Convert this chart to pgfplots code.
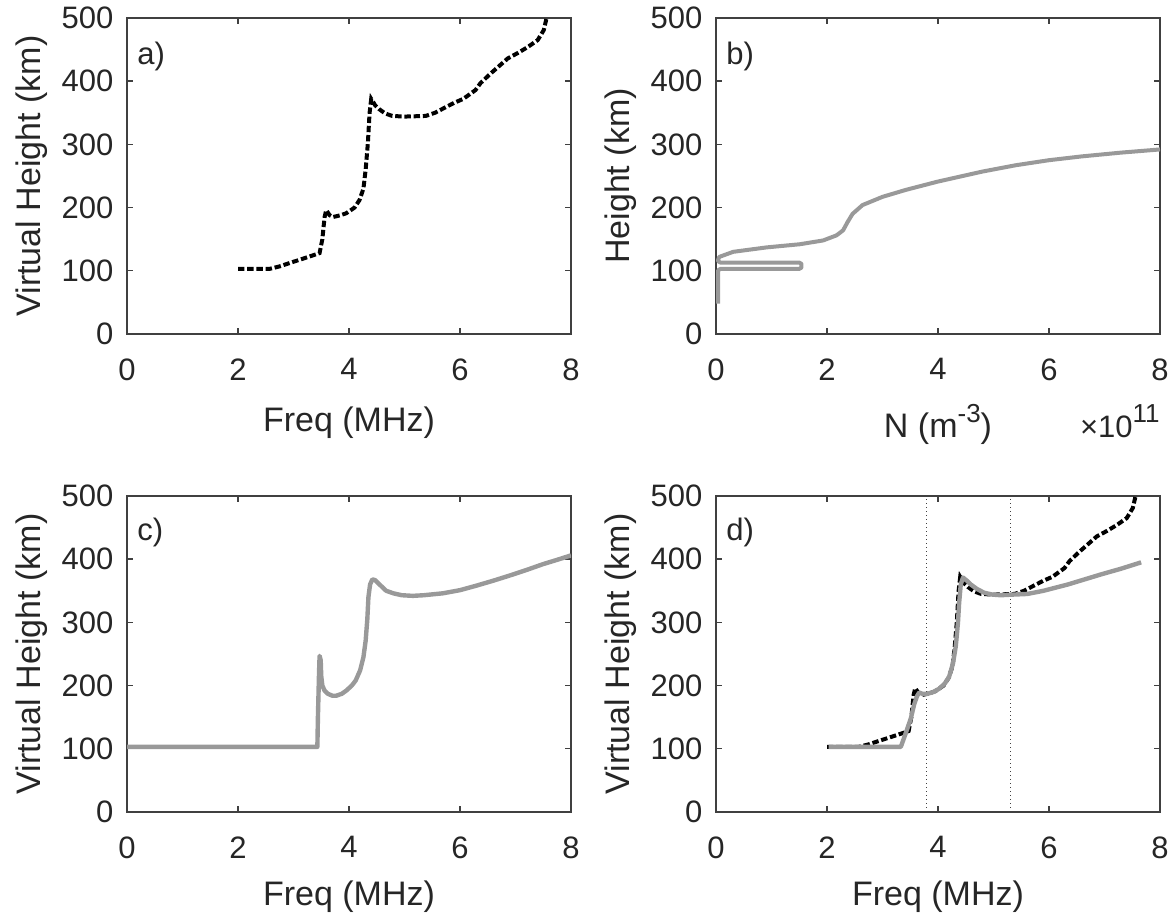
\documentclass[border=0pt]{standalone}
\usepackage{fontspec}
\setmainfont{Liberation Sans}
\usepackage{pgfplots}
\pgfplotsset{compat=1.18}
\definecolor{axgray}{HTML}{404040}
\definecolor{txtgray}{HTML}{262626}
\definecolor{linegray}{HTML}{999999}
\newcommand{\tickfont}{\fontsize{15.5}{18}\selectfont}
\newcommand{\labfont}{\fontsize{17}{20}\selectfont}

\pgfplotsset{
  panel/.style={
    scale only axis, width=222pt, height=158pt, anchor=south west,
    xmin=0, xmax=8, ymin=0, ymax=500,
    xtick={0,2,4,6,8}, ytick={0,100,200,300,400,500},
    tick align=inside, major tick length=3pt,
    axis line style={draw=axgray, line width=0.7pt},
    every tick/.style={axgray, line width=0.7pt},
    tick label style={font=\tickfont, text=txtgray},
    /pgf/number format/assume math mode=true,
    xticklabel style={yshift=-8.8pt},
    yticklabel style={xshift=-3.3pt},
  },
  dashblack/.style={black, line width=2pt, dash pattern=on 3.2pt off 1.4pt},
  solidgray/.style={linegray, line width=2.2pt, line join=round},
}

% measured virtual height (ionogram trace)
\pgfplotstableread{
f h
2.00 103
2.30 103
2.57 103
2.75 107
2.99 114
3.20 120
3.47 128
3.52 150
3.56 185
3.59 196
3.65 188
3.71 185
3.85 188
3.95 191
4.10 200
4.19 212
4.26 230
4.30 260
4.34 302
4.37 349
4.40 372
4.47 362
4.54 356
4.65 349
4.78 345
5.00 344
5.38 345
5.55 350
5.68 356
5.90 366
6.06 372
6.28 386
6.37 397
6.55 412
6.68 422
6.86 436
7.05 445
7.22 454
7.40 465
7.51 481
7.56 500
}\measured

% electron density profile, N in 1e11 m^-3
\pgfplotstableread{
n h
0.04 48
0.04 101
0.08 103
1.50 103
1.54 105
1.54 111
1.50 113
0.08 113
0.04 115
0.04 118
0.06 122
0.31 130
0.91 137
1.51 142
1.93 148
2.17 156
2.29 164
2.37 177
2.46 190
2.64 204
3.00 217
3.42 228
3.99 241
4.80 257
5.40 267
6.00 275
6.59 281
7.30 287
8.00 292
}\profile

% synthetic virtual height
\pgfplotstableread{
f h
0.00 103
3.43 103
3.44 150
3.46 220
3.47 247
3.49 240
3.50 215
3.52 200
3.56 192
3.62 187
3.70 184
3.77 184
3.87 187
3.95 192
4.05 200
4.12 208
4.20 224
4.26 245
4.30 271
4.33 305
4.35 340
4.38 360
4.42 368
4.47 367
4.55 360
4.67 350
4.80 346
4.95 343
5.15 342
5.35 343
5.69 346
6.00 351
6.29 358
6.60 366
6.89 374
7.20 383
7.49 392
7.75 399
8.00 406
}\synth

% fitted virtual height
\pgfplotstableread{
f h
2.03 103
3.33 103
3.42 125
3.51 148
3.57 170
3.62 183
3.66 189
3.72 187
3.81 187
3.92 190
4.02 195
4.12 203
4.20 214
4.27 235
4.32 262
4.36 300
4.38 330
4.41 360
4.45 371
4.52 366
4.59 360
4.70 353
4.83 347
4.98 344
5.13 343
5.35 344
5.61 345
5.90 350
6.34 360
6.64 368
6.94 376
7.30 385
7.66 395
}\fitted

\begin{document}
\begin{tikzpicture}
\useasboundingbox (0,0) rectangle (586pt,457pt);

% a)
\begin{axis}[panel, at={(63.5pt,290pt)}]
\addplot[dashblack] table[x=f,y=h] {\measured};
\end{axis}

% b)
\begin{axis}[panel, at={(358pt,290pt)}]
\addplot[solidgray, line width=2pt] table[x=n,y=h] {\profile};
\end{axis}

% c)
\begin{axis}[panel, at={(63.5pt,51pt)}]
\addplot[solidgray] table[x=f,y=h] {\synth};
\end{axis}

% d)
\begin{axis}[panel, at={(358pt,51pt)}]
\addplot[axgray, line width=0.5pt, dash pattern=on 0.5pt off 1.5pt] coordinates {(3.79,0) (3.79,500)};
\addplot[axgray, line width=0.5pt, dash pattern=on 0.5pt off 1.5pt] coordinates {(5.30,0) (5.30,500)};
\addplot[dashblack] table[x=f,y=h] {\measured};
\addplot[solidgray] table[x=f,y=h] {\fitted};
\end{axis}

% panel tags
\begin{scope}[every node/.style={font=\tickfont, text=txtgray, anchor=base west, inner sep=0pt}]
\node at (68.5pt,424.5pt) {a)};
\node at (363pt,424.5pt) {b)};
\node at (68.5pt,186.5pt) {c)};
\node at (363pt,186.5pt) {d)};
\end{scope}

% axis labels
\begin{scope}[every node/.style={font=\labfont, text=txtgray, inner sep=0pt}]
\node[rotate=90, anchor=base] at (20pt,369pt) {Virtual Height (km)};
\node[rotate=90, anchor=base] at (314.5pt,369pt) {Height (km)};
\node[rotate=90, anchor=base] at (20pt,130pt) {Virtual Height (km)};
\node[rotate=90, anchor=base] at (314.5pt,130pt) {Virtual Height (km)};
\node[anchor=base] at (174.5pt,241pt) {Freq (MHz)};
\node[anchor=base] at (469pt,238pt) {N (m\raisebox{0.45em}{\fontsize{13}{15}\selectfont -3})};
\node[anchor=base] at (174.5pt,4pt) {Freq (MHz)};
\node[anchor=base] at (469pt,4pt) {Freq (MHz)};
\end{scope}
\node[font=\tickfont, text=txtgray, anchor=base east, inner sep=0pt] at (580pt,238pt) {×10\raisebox{0.5em}{\fontsize{13}{15}\selectfont 11}};

\end{tikzpicture}
\end{document}
